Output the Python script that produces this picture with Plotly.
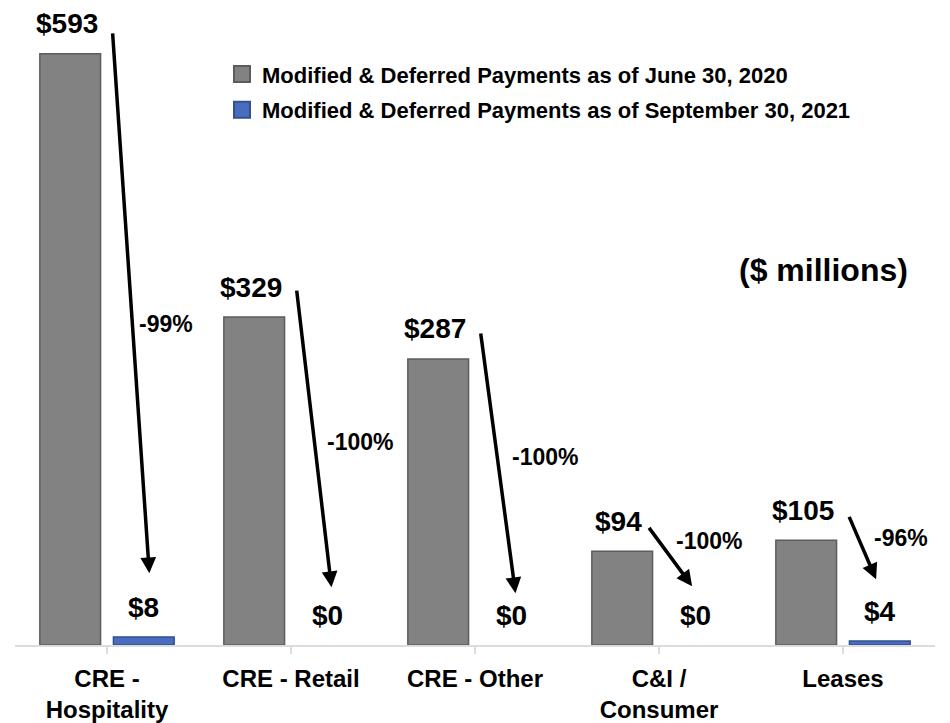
import plotly.graph_objects as go

# ---- data ----
categories = ["CRE - Hospitality", "CRE - Retail", "CRE - Other", "C&I / Consumer", "Leases"]
tick_labels = ["CRE -<br>Hospitality", "CRE - Retail", "CRE - Other", "C&I /<br>Consumer", "Leases"]
june_2020 = [593, 329, 287, 94, 105]
sept_2021 = [8, 0, 0, 0, 4]
pct_change = ["-99%", "-100%", "-100%", "-100%", "-96%"]
series_names = ["Modified & Deferred Payments as of June 30, 2020",
                "Modified & Deferred Payments as of September 30, 2021"]

FONT = "Liberation Sans, Arial, sans-serif"
GRAY = "#828282"
GRAY_LINE = "#5c5c5c"
BLUE = "#4a6cbf"
BLUE_LINE = "#30508f"

idx = list(range(len(categories)))

fig = go.Figure()
fig.add_trace(go.Bar(x=idx, y=june_2020, name=series_names[0], legendgroup="a", showlegend=False,
                     marker=dict(color=GRAY, line=dict(color=GRAY_LINE, width=1.5))))
fig.add_trace(go.Bar(x=idx, y=sept_2021, name=series_names[1], legendgroup="b", showlegend=False,
                     marker=dict(color=BLUE,
                                 line=dict(color=BLUE_LINE,
                                           width=[1.5 if v > 0 else 0 for v in sept_2021]))))
# legend entries with larger square swatches
for name, col, lcol, grp in [(series_names[0], GRAY, GRAY_LINE, "a"),
                             (series_names[1], BLUE, BLUE_LINE, "b")]:
    fig.add_trace(go.Scatter(x=[None], y=[None], mode="markers", name=name, legendgroup=grp,
                             showlegend=True, hoverinfo="skip",
                             marker=dict(symbol="square", size=16, color=col,
                                         line=dict(color=lcol, width=2))))

# layout constants (group geometry)
BARGAP = 0.2
half = (1 - BARGAP) / 4.0  # offset of each bar centre from category centre

annotations = []
# value labels
for i in idx:
    annotations.append(dict(x=i - half - 0.02, y=june_2020[i], xref="x", yref="y",
                            text="$%d" % june_2020[i], showarrow=False, yanchor="middle",
                            yshift=30, font=dict(family=FONT, size=28, color="black", weight="bold")))
    annotations.append(dict(x=i + half, y=sept_2021[i], xref="x", yref="y",
                            text="$%d" % sept_2021[i], showarrow=False, yanchor="middle",
                            yshift=30, font=dict(family=FONT, size=28, color="black", weight="bold")))

# arrows from the June bar label to the September label (layout geometry)
tail_dx = [0.03, 0.03, 0.03, -0.06, 0.03]
tail_dy = [22, 28, 27, 25, 25]
tip_dx = [0.23, 0.22, 0.22, 0.18, 0.18]
tip_dy = [64, 58, 52, 59, 62]
pct_pos = [(0.32, 322), (1.375, 204), (2.38, 189), (3.27, 104), (4.315, 107)]
for i in idx:
    annotations.append(dict(x=i + tip_dx[i], y=sept_2021[i] + tip_dy[i],
                            ax=i + tail_dx[i], ay=june_2020[i] + tail_dy[i],
                            xref="x", yref="y", axref="x", ayref="y", text="",
                            showarrow=True, arrowhead=2, arrowsize=0.9, arrowwidth=3.5,
                            arrowcolor="black", standoff=0, startstandoff=0))
    annotations.append(dict(x=pct_pos[i][0], y=pct_pos[i][1], xref="x", yref="y",
                            text=pct_change[i], showarrow=False,
                            font=dict(family=FONT, size=23, color="black", weight="bold")))

annotations.append(dict(x=0.879, y=0.588, xref="paper", yref="paper", text="($ millions)",
                        xanchor="center", yanchor="middle",
                        showarrow=False, font=dict(family=FONT, size=32, color="black", weight="bold")))

fig.update_layout(
    width=942, height=715,
    margin=dict(l=7, r=15, t=0, b=76),
    paper_bgcolor="white", plot_bgcolor="white",
    barmode="group", bargap=BARGAP, bargroupgap=0.175,
    showlegend=True,
    legend=dict(x=0.225, y=0.929, xanchor="left", yanchor="top",
                traceorder="grouped", tracegroupgap=4, itemsizing="trace",
                font=dict(family=FONT, size=22, color="black", weight="bold"),
                bgcolor="rgba(0,0,0,0)"),
    annotations=annotations,
    xaxis=dict(range=[-0.5, 4.5], tickvals=idx, ticktext=tick_labels,
               showgrid=False, zeroline=False, showline=True, linecolor="#dcdcdc", linewidth=1.5,
               ticks="outside", tickson="boundaries", ticklen=7, tickcolor="#dcdcdc", tickwidth=1.5,
               ticklabelstandoff=4,
               tickfont=dict(family=FONT, size=24, color="black", weight="bold")),
    yaxis=dict(range=[0, 639], visible=False, showgrid=False, zeroline=False),
)

fig.write_html("out.html")
